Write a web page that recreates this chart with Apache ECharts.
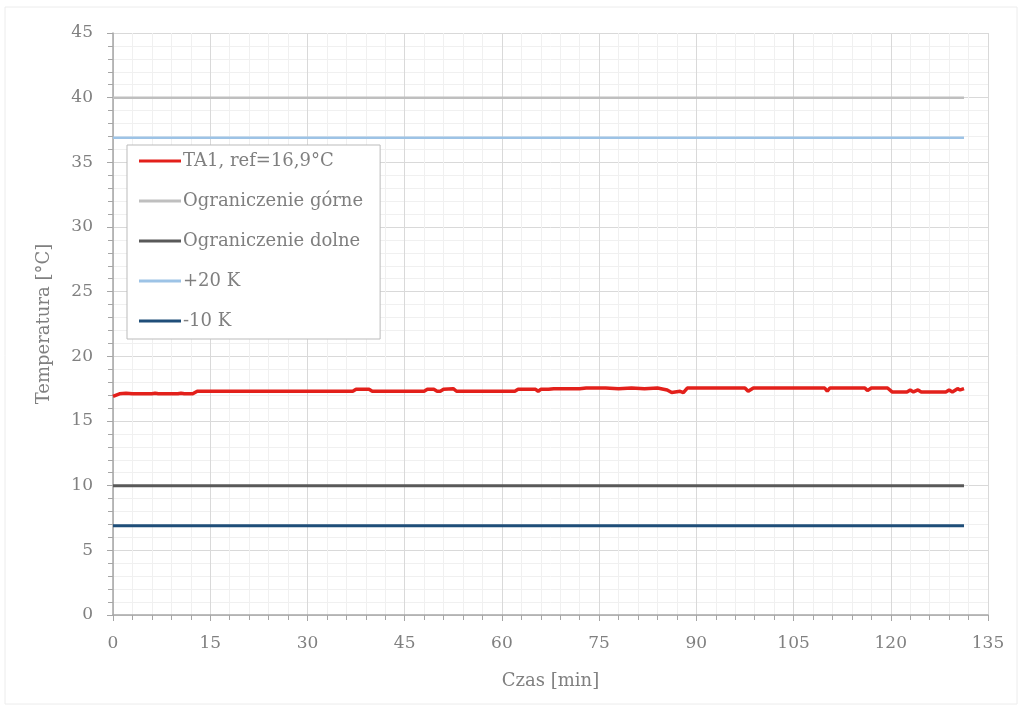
<!DOCTYPE html>
<html><head><meta charset="utf-8">
<script src="https://cdn.jsdelivr.net/npm/echarts@6/dist/echarts.min.js"></script>
<style>html,body{margin:0;padding:0;background:#fff}#c{width:1022px;height:711px}</style>
</head><body><div id="c"></div>
<script>
const names = ['TA1, ref=16,9°C', 'Ograniczenie górne', 'Ograniczenie dolne', '+20 K', '-10 K'];
const ta1 = [[0,16.9],[0.5,17.0],[1,17.1],[2,17.15],[3,17.1],[6,17.1],[6.5,17.15],[7,17.1],[10,17.1],[10.5,17.15],[11,17.1],[12.3,17.1],[13,17.3],[37,17.3],[37.5,17.45],[39.5,17.45],[40,17.3],[48,17.3],[48.5,17.45],[49.5,17.45],[50,17.3],[50.5,17.3],[51,17.45],[52.5,17.5],[53,17.3],[62,17.3],[62.5,17.45],[65.2,17.45],[65.6,17.3],[66,17.45],[67.2,17.45],[67.5,17.35],[68,17.5],[72,17.5],[73,17.55],[76,17.55],[78,17.5],[80,17.55],[82,17.5],[84,17.55],[85.5,17.4],[86.2,17.2],[87.5,17.3],[88,17.2],[88.6,17.55],[97.5,17.55],[98,17.3],[98.8,17.55],[109.8,17.55],[110.2,17.3],[110.6,17.55],[116,17.55],[116.4,17.35],[117,17.55],[119.5,17.55],[120.2,17.25],[122.5,17.25],[123,17.4],[123.5,17.25],[124.2,17.4],[124.7,17.25],[128.5,17.25],[129,17.4],[129.5,17.25],[130.3,17.5],[130.7,17.4],[131.3,17.5]];
const timeRange = [0, 131.3];
const upperLimit = 40;
const lowerLimit = 10;
const plus20 = 36.9;
const minus10 = 6.9;
const colors = ['#e3201b', '#bfbfbf', '#595959', '#9dc3e6', '#1f4e79'];
const widths = [3.5, 2.5, 3, 2.5, 3];

const flat = v => timeRange.map(t => [t, v]);
const datas = [ta1, flat(upperLimit), flat(lowerLimit), flat(plus20), flat(minus10)];
const font = '"DejaVu Serif", serif';

const chart = echarts.init(document.getElementById('c'));
chart.setOption({
  animation: false,
  graphic: [{type:'rect', shape:{x:5,y:7,width:1012,height:697}, style:{fill:'none', stroke:'#ececec', lineWidth:1}, silent:true}],
  grid: {left:113, right:34, top:33, bottom:96},
  legend: {
    orient:'vertical', left:127, top:145,
    data: names,
    backgroundColor:'#fff', borderColor:'#bbb', borderWidth:1,
    padding:[7,17,9,12], itemGap:22,
    icon:'rect', itemWidth:42, itemHeight:3,
    textStyle:{fontFamily:font, fontSize:18, color:'#7f7f7f', padding:[0,0,0,-3]}
  },
  xAxis: {
    type:'value', min:0, max:135, interval:15,
    name:'Czas [min]', nameLocation:'middle', nameGap:57,
    nameTextStyle:{fontFamily:font, fontSize:18, color:'#808080'},
    axisLine:{onZero:false, lineStyle:{color:'#a6a6a6', width:1.5}},
    axisTick:{show:true, length:6, lineStyle:{color:'#a6a6a6'}},
    minorTick:{show:true, splitNumber:5, length:5, lineStyle:{color:'#a6a6a6'}},
    axisLabel:{fontFamily:font, fontSize:17, color:'#808080', margin:20},
    splitLine:{show:true, lineStyle:{color:'#d9d9d9', width:1}},
    minorSplitLine:{show:true, lineStyle:{color:'#f0f0f0', width:1}}
  },
  yAxis: {
    type:'value', min:0, max:45, interval:5,
    name:'Temperatura [°C]', nameLocation:'middle', nameGap:60,
    nameTextStyle:{fontFamily:font, fontSize:18, color:'#808080'},
    axisLine:{show:true, lineStyle:{color:'#a6a6a6', width:1.5}},
    axisTick:{show:true, length:6, lineStyle:{color:'#a6a6a6'}},
    minorTick:{show:true, splitNumber:5, length:5, lineStyle:{color:'#a6a6a6'}},
    axisLabel:{fontFamily:font, fontSize:17, color:'#808080', margin:20},
    splitLine:{show:true, lineStyle:{color:'#d9d9d9', width:1}},
    minorSplitLine:{show:true, lineStyle:{color:'#f0f0f0', width:1}}
  },
  series: names.map((n, i) => ({
    name:n, type:'line', data:datas[i], showSymbol:false, symbol:'none',
    lineStyle:{color:colors[i], width:widths[i]}, itemStyle:{color:colors[i]},
    z: i === 0 ? 5 : 3
  }))
});
</script></body></html>
